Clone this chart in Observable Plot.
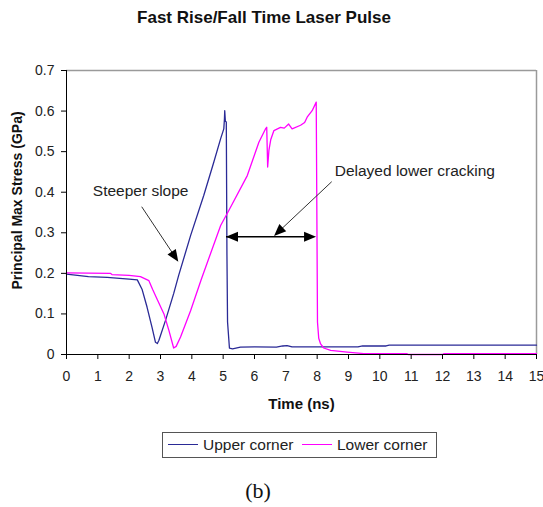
<!DOCTYPE html>
<html><head><meta charset="utf-8">
<script src="https://cdn.jsdelivr.net/npm/d3@7"></script>
<script src="https://cdn.jsdelivr.net/npm/@observablehq/plot@0.6"></script>
<style>
body{margin:0;background:#fff;font-family:"Liberation Sans",Arial,sans-serif;color:#222;}
#wrap{position:relative;width:543px;height:507px;overflow:hidden;}
#title{position:absolute;left:0;top:8px;width:528px;text-align:center;font-weight:bold;font-size:17px;line-height:20px;color:#111;}
#chart{position:absolute;left:0;top:50px;}
#legend{position:absolute;left:162px;top:432px;width:275px;height:26px;box-sizing:border-box;border:1px solid #555;background:#fff;font-size:15.5px;}
#legend .ln{position:absolute;top:11px;width:30px;height:0;border-top:1.5px solid;}
#legend .tx{position:absolute;top:0;line-height:23px;white-space:nowrap;}
#cap{position:absolute;left:0;top:478px;width:516px;text-align:center;font-family:"Liberation Serif","Times New Roman",serif;font-size:22px;line-height:26px;color:#111;}
</style></head><body>
<div id="wrap">
<div id="title">Fast Rise/Fall Time Laser Pulse</div>
<div id="chart"></div>
<div id="legend"></div>
<div id="cap">(b)</div>
</div>
<script>
// ---- data ----
const seriesNames = ["Upper corner", "Lower corner"];
const seriesColors = ["#2a2a96", "#ff00ff"];

const upperT = [0, 0.7, 1.3, 2.0, 2.26, 2.41, 2.57, 2.73, 2.84, 2.9, 2.95, 3.16, 3.42, 3.58, 3.96, 4.38, 4.70, 4.92, 5.02, 5.04, 5.05, 5.07, 5.10, 5.12, 5.14, 5.2, 5.3, 5.55, 6.0, 6.7, 6.9, 7.04, 7.2, 8.0, 9.3, 9.45, 10.2, 10.3, 15];
const upperV = [0.198, 0.192, 0.190, 0.186, 0.184, 0.161, 0.117, 0.067, 0.030, 0.027, 0.035, 0.084, 0.150, 0.195, 0.293, 0.392, 0.474, 0.532, 0.556, 0.580, 0.601, 0.575, 0.573, 0.25, 0.08, 0.016, 0.014, 0.018, 0.019, 0.018, 0.021, 0.022, 0.019, 0.019, 0.019, 0.021, 0.021, 0.023, 0.023];

const lowerT = [0, 1.4, 1.45, 2.0, 2.36, 2.63, 2.75, 2.9, 3.11, 3.27, 3.42, 3.5, 3.64, 3.96, 4.3, 4.92, 5.18, 5.77, 6.14, 6.35, 6.39, 6.42, 6.46, 6.52, 6.62, 6.83, 6.95, 7.09, 7.2, 7.47, 7.6, 7.68, 7.84, 7.97, 7.99, 8.01, 8.05, 8.11, 8.21, 8.43, 8.96, 9.49, 10.87, 10.9, 12.0, 12.05, 15];
const lowerV = [0.201, 0.200, 0.197, 0.195, 0.192, 0.182, 0.160, 0.135, 0.100, 0.059, 0.016, 0.020, 0.043, 0.108, 0.185, 0.318, 0.355, 0.441, 0.523, 0.556, 0.560, 0.462, 0.503, 0.530, 0.552, 0.560, 0.558, 0.568, 0.556, 0.565, 0.572, 0.585, 0.601, 0.622, 0.350, 0.080, 0.040, 0.026, 0.016, 0.010, 0.006, 0.002, 0.002, 0.0, 0.0, 0.002, 0.002];

const xTicks = [0,1,2,3,4,5,6,7,8,9,10,11,12,13,14,15];
const yTicks = [0,0.1,0.2,0.3,0.4,0.5,0.6,0.7];

const annoText = ["Steeper slope", "Delayed lower cracking"];
const annoT = [0.84, 8.56];
const annoV = [0.404, 0.452];

// annotation arrows (data units): from -> to, optional double head
const arrows = [
  {from: [2.416, 0.363], to: [3.584, 0.2275], both: false, stroke: "#333", w: 1},
  {from: [8.48, 0.4247], to: [6.64, 0.291], both: false, stroke: "#333", w: 1},
  {from: [5.107, 0.289], to: [7.98, 0.289], both: true, stroke: "#000", w: 1.5}
];

// ---- tables ----
const rows = [];
upperT.forEach((t, i) => rows.push({t, v: upperV[i], s: seriesNames[0]}));
lowerT.forEach((t, i) => rows.push({t, v: lowerV[i], s: seriesNames[1]}));
const annos = annoText.map((text, i) => ({text, t: annoT[i], v: annoV[i]}));

function arrowMark(index, scales) {
  const {x, y} = scales;
  const g = d3.create("svg:g");
  const head = (px, py, ux, uy) => {
    const L = 12, W = 10;
    const bx = px - ux * L, by = py - uy * L;
    const nx = -uy, ny = ux;
    g.append("path")
      .attr("d", `M${px},${py}L${bx + nx * W / 2},${by + ny * W / 2}L${bx - nx * W / 2},${by - ny * W / 2}Z`)
      .attr("fill", "#000");
  };
  for (const a of arrows) {
    const x1 = x(a.from[0]), y1 = y(a.from[1]), x2 = x(a.to[0]), y2 = y(a.to[1]);
    const len = Math.hypot(x2 - x1, y2 - y1), ux = (x2 - x1) / len, uy = (y2 - y1) / len;
    g.append("line").attr("x1", x1).attr("y1", y1).attr("x2", x2 - ux * 6).attr("y2", y2 - uy * 6)
      .attr("stroke", a.stroke).attr("stroke-width", a.w);
    head(x2, y2, ux, uy);
    if (a.both) head(x1, y1, -ux, -uy);
  }
  return g.node();
}

const chart = Plot.plot({
  width: 543,
  height: 370,
  marginLeft: 66,
  marginRight: 7,
  marginTop: 20,
  marginBottom: 66,
  style: {fontFamily: "'Liberation Sans', Arial, sans-serif", fontSize: "14px", color: "#222", background: "#fff"},
  x: {domain: [0, 15]},
  y: {domain: [0, 0.7]},
  color: {domain: seriesNames, range: seriesColors},
  marks: [
    Plot.ruleY([0.7], {stroke: "#9a9a9a", strokeWidth: 1.5}),
    Plot.ruleX([15], {stroke: "#9a9a9a", strokeWidth: 1.5}),
    Plot.line(rows, {x: "t", y: "v", z: "s", stroke: "s", strokeWidth: 1.3}),
    Plot.ruleX([0], {stroke: "#000", strokeWidth: 1}),
    Plot.ruleY([0], {stroke: "#000", strokeWidth: 1}),
    Plot.axisX({ticks: xTicks, tickSize: 5, tickPadding: 12, label: null, stroke: "#000", tickFormat: d => String(d)}),
    Plot.axisY({ticks: yTicks, tickSize: 5, tickPadding: 7, label: null, stroke: "#000", tickFormat: d => d === 0 ? "0" : d.toFixed(1)}),
    Plot.text(["Time (ns)"], {frameAnchor: "bottom", dy: 49.6, lineAnchor: "middle", fontWeight: "bold", fontSize: 15, fill: "#111"}),
    Plot.text(["Principal Max Stress (GPa)"], {frameAnchor: "left", dx: -48.5, dy: -12, rotate: -90, lineAnchor: "middle", textAnchor: "middle", fontWeight: "bold", fontSize: 14, fill: "#111"}),
    Plot.text(annos, {x: "t", y: "v", text: "text", textAnchor: "start", lineAnchor: "middle", fontSize: 15.5, fill: "#222"}),
    arrowMark
  ]
});
document.getElementById("chart").appendChild(chart);

// legend
const leg = document.getElementById("legend");
const lnLeft = [5, 139], txLeft = [40, 174];
seriesNames.forEach((name, i) => {
  const ln = document.createElement("div");
  ln.className = "ln"; ln.style.left = lnLeft[i] + "px"; ln.style.borderTopColor = seriesColors[i];
  const tx = document.createElement("div");
  tx.className = "tx"; tx.style.left = txLeft[i] + "px"; tx.textContent = name;
  leg.appendChild(ln); leg.appendChild(tx);
});
</script>
</body></html>
